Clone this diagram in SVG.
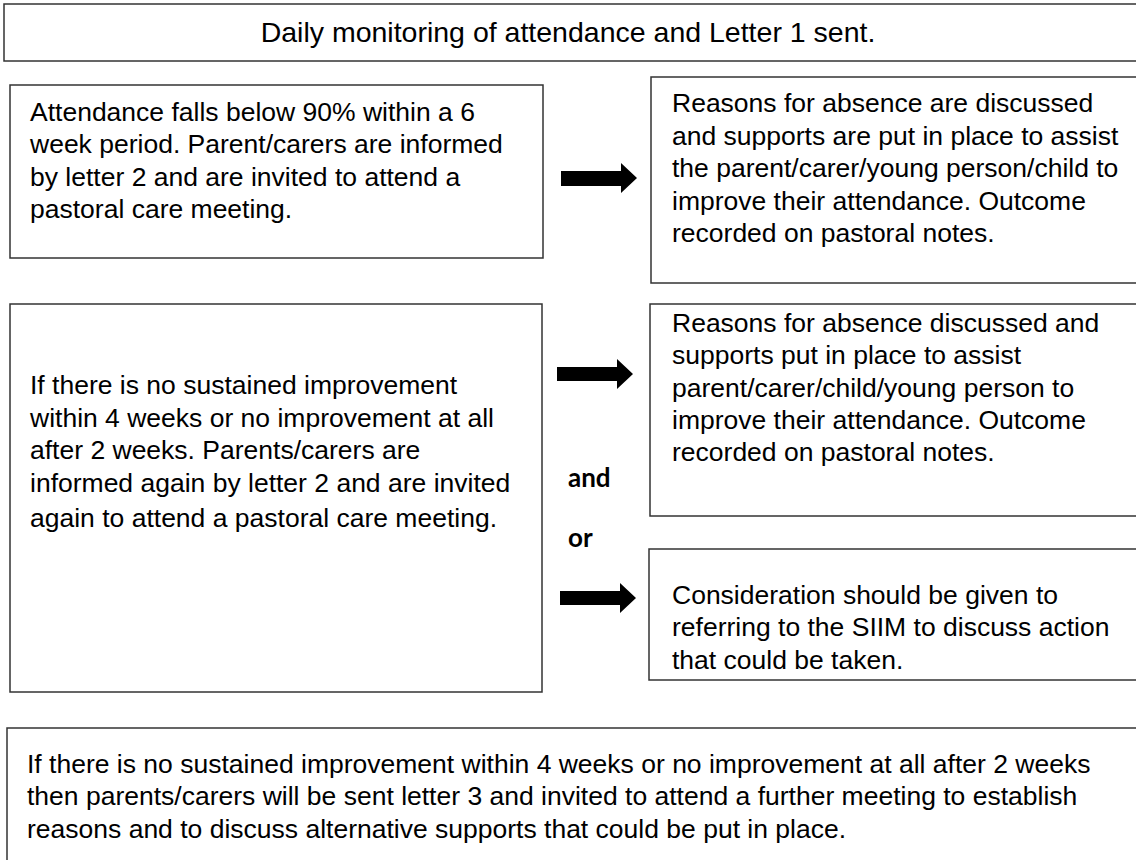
<svg xmlns="http://www.w3.org/2000/svg" width="1136" height="860" viewBox="0 0 1136 860">
<style>
.box{fill:#fff;stroke:#333;stroke-width:1.5}
.t{font-family:"Liberation Sans",Arial,sans-serif;font-size:26.5px;fill:#000}
.title{font-size:28.5px}
.b{font-family:Lato,"Liberation Sans",sans-serif;font-size:26px;font-weight:bold;fill:#000}
.arr{fill:#000}
</style>
<rect width="1136" height="860" fill="#fff"/>
<g id="n-title">
<rect class="box" x="4" y="4" width="1150" height="57"/>
<text class="t title" x="568" y="42" text-anchor="middle">Daily monitoring of attendance and Letter 1 sent.</text>
</g>
<g id="n-a">
<rect class="box" x="10" y="85" width="533" height="173"/>
<text class="t" x="30" y="121">Attendance falls below 90% within a 6</text>
<text class="t" x="30" y="153">week period. Parent/carers are informed</text>
<text class="t" x="30" y="186">by letter 2 and are invited to attend a</text>
<text class="t" x="30" y="218">pastoral care meeting.</text>
</g>
<g id="n-r1">
<rect class="box" x="651" y="77" width="500" height="206"/>
<text class="t" x="672" y="112">Reasons for absence are discussed</text>
<text class="t" x="672" y="145">and supports are put in place to assist</text>
<text class="t" x="672" y="177">the parent/carer/young person/child to</text>
<text class="t" x="672" y="210">improve their attendance. Outcome</text>
<text class="t" x="672" y="242">recorded on pastoral notes.</text>
</g>
<g id="n-b">
<rect class="box" x="10" y="304" width="532" height="388"/>
<text class="t" x="30" y="394">If there is no sustained improvement</text>
<text class="t" x="30" y="427">within 4 weeks or no improvement at all</text>
<text class="t" x="30" y="459">after 2 weeks. Parents/carers are</text>
<text class="t" x="30" y="492">informed again by letter 2 and are invited</text>
<text class="t" x="30" y="527">again to attend a pastoral care meeting.</text>
</g>
<g id="n-r2">
<rect class="box" x="650" y="304" width="500" height="212"/>
<text class="t" x="672" y="332">Reasons for absence discussed and</text>
<text class="t" x="672" y="364">supports put in place to assist</text>
<text class="t" x="672" y="397">parent/carer/child/young person to</text>
<text class="t" x="672" y="429">improve their attendance. Outcome</text>
<text class="t" x="672" y="461">recorded on pastoral notes.</text>
</g>
<g id="n-r3">
<rect class="box" x="649" y="549" width="500" height="131"/>
<text class="t" x="672" y="604">Consideration should be given to</text>
<text class="t" x="672" y="636">referring to the SIIM to discuss action</text>
<text class="t" x="672" y="669">that could be taken.</text>
</g>
<g id="n-bottom">
<rect class="box" x="7" y="728" width="1150" height="150"/>
<text class="t" x="27" y="773">If there is no sustained improvement within 4 weeks or no improvement at all after 2 weeks</text>
<text class="t" x="27" y="805">then parents/carers will be sent letter 3 and invited to attend a further meeting to establish</text>
<text class="t" x="27" y="838">reasons and to discuss alternative supports that could be put in place.</text>
</g>
<g id="connectors">
<polygon class="arr" points="561,171 621,171 621,163 637,178 621,193 621,186 561,186"/>
<polygon class="arr" points="557,367 617,367 617,359 633,374 617,389 617,381 557,381"/>
<polygon class="arr" points="560,591 620,591 620,583 636,598 620,613 620,605 560,605"/>
<text class="b" x="568" y="487">and</text>
<text class="b" x="568" y="547">or</text>
</g>
</svg>
